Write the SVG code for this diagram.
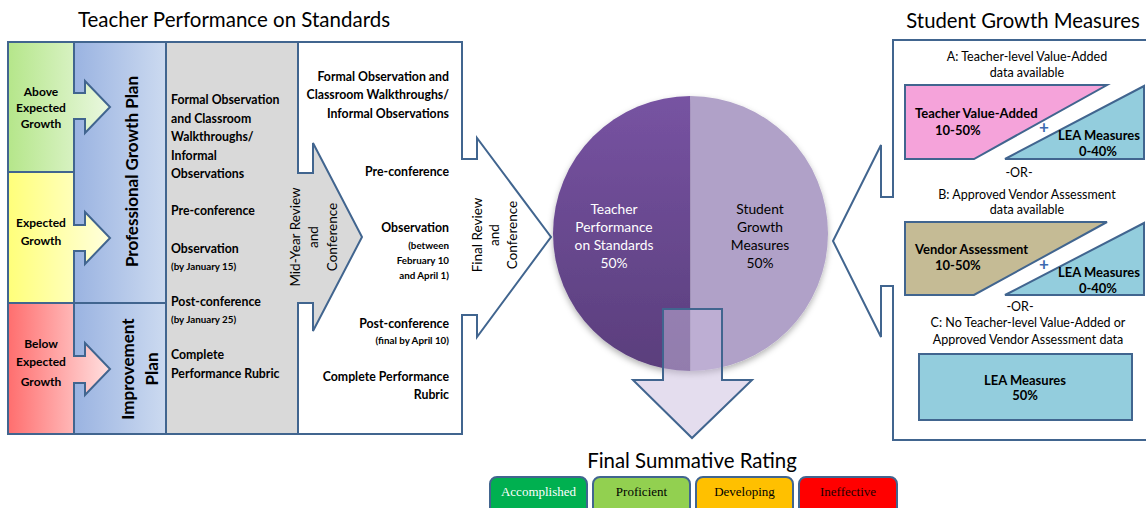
<svg xmlns="http://www.w3.org/2000/svg" width="1146" height="508" viewBox="0 0 1146 508">
<defs>
<style>
.t{font-family:Lato,"Liberation Sans",sans-serif;fill:#000}
.b{font-weight:bold}
.ln{stroke:#41658F;stroke-width:2;stroke-linejoin:miter}
.rt{font-family:"Liberation Serif",serif;font-size:13px;text-anchor:middle}
</style>
<linearGradient id="gGreen" gradientUnits="userSpaceOnUse" x1="8" y1="0" x2="110" y2="0"><stop offset="0" stop-color="#B5E68A"/><stop offset="1" stop-color="#EAF8E0"/></linearGradient>
<linearGradient id="gYellow" gradientUnits="userSpaceOnUse" x1="8" y1="0" x2="110" y2="0"><stop offset="0" stop-color="#FFFF7A"/><stop offset="1" stop-color="#FFFFDD"/></linearGradient>
<linearGradient id="gRed" gradientUnits="userSpaceOnUse" x1="8" y1="0" x2="110" y2="0"><stop offset="0" stop-color="#FF6E6E"/><stop offset="1" stop-color="#FFE0E0"/></linearGradient>
<linearGradient id="gBlue" x1="0" y1="0" x2="1" y2="0"><stop offset="0" stop-color="#9AB3E1"/><stop offset="1" stop-color="#CCDAF0"/></linearGradient>
<linearGradient id="gPurple" x1="0" y1="0" x2="0" y2="1"><stop offset="0" stop-color="#7753A2"/><stop offset="1" stop-color="#5A3E7C"/></linearGradient>
<filter id="sh" x="-10%" y="-10%" width="120%" height="125%"><feDropShadow dx="0" dy="3" stdDeviation="3" flood-color="#000" flood-opacity="0.3"/></filter>
</defs>
<rect width="1146" height="508" fill="#fff"/>

<!-- Titles -->
<text class="t" x="234" y="27" font-size="20.5" text-anchor="middle">Teacher Performance on Standards</text>
<text class="t" x="1023" y="28" font-size="20.3" text-anchor="middle">Student Growth Measures</text>
<text class="t" x="692" y="468" font-size="20.4" text-anchor="middle">Final Summative Rating</text>

<!-- White box with final review arrow -->
<g id="final-review">
<polygon class="ln" fill="#fff" points="298,42 462,42 462,159 477,159 477,138 551,237 477,337 477,315 462,315 462,434 298,434"/>
<g class="t b" font-size="12.3" text-anchor="end">
<text x="449" y="81">Formal Observation and</text>
<text x="449" y="99">Classroom Walkthroughs/</text>
<text x="449" y="118">Informal Observations</text>
<text x="449" y="176">Pre-conference</text>
<text x="449" y="232">Observation</text>
<text x="449" y="249" font-size="9.8">(between</text>
<text x="449" y="264" font-size="9.8">February 10</text>
<text x="449" y="279" font-size="9.8">and April 1)</text>
<text x="449" y="328">Post-conference</text>
<text x="449" y="344" font-size="9.8">(final by April 10)</text>
<text x="449" y="381">Complete Performance</text>
<text x="449" y="399">Rubric</text>
</g>
<g class="t" font-size="13.5" text-anchor="middle">
<text transform="translate(481.5,235) rotate(-90)">Final Review</text>
<text transform="translate(498.5,235) rotate(-90)">and</text>
<text transform="translate(516.5,235) rotate(-90)">Conference</text>
</g>
</g>

<!-- Gray column with mid-year arrow -->
<g id="mid-year">
<polygon class="ln" fill="#D9D9D9" points="166,42 298,42 298,173 313,173 313,143 362,237 313,331 313,303 298,303 298,434 166,434"/>
<g class="t b" font-size="12.3">
<text x="171" y="104">Formal Observation</text>
<text x="171" y="123">and Classroom</text>
<text x="171" y="141">Walkthroughs/</text>
<text x="171" y="160">Informal</text>
<text x="171" y="178">Observations</text>
<text x="171" y="215">Pre-conference</text>
<text x="171" y="253">Observation</text>
<text x="171" y="270" font-size="9.8">(by January 15)</text>
<text x="171" y="306">Post-conference</text>
<text x="171" y="323" font-size="9.8">(by January 25)</text>
<text x="171" y="359">Complete</text>
<text x="171" y="378">Performance Rubric</text>
</g>
<g class="t" font-size="13.5" text-anchor="middle">
<text transform="translate(299.5,237) rotate(-90)">Mid-Year Review</text>
<text transform="translate(318,237) rotate(-90)">and</text>
<text transform="translate(336.5,237) rotate(-90)">Conference</text>
</g>
</g>

<!-- Blue plans -->
<g id="pgp">
<rect class="ln" x="74" y="42" width="92" height="261" fill="url(#gBlue)"/>
<text class="t b" font-size="17" text-anchor="middle" transform="translate(137.5,171.5) rotate(-90)">Professional Growth Plan</text>
</g>
<g id="ip">
<rect class="ln" x="74" y="303" width="92" height="131" fill="url(#gBlue)"/>
<g class="t b" font-size="17" text-anchor="middle">
<text transform="translate(134,369) rotate(-90)">Improvement</text>
<text transform="translate(158,369) rotate(-90)">Plan</text>
</g>
</g>

<!-- Growth boxes with arrows -->
<g id="above">
<polygon class="ln" fill="url(#gGreen)" points="8,42 74,42 74,93 85,93 85,81 110,107 85,133 85,119 74,119 74,172 8,172"/>
<g class="t b" font-size="12" text-anchor="middle">
<text x="41" y="96">Above</text><text x="41" y="112">Expected</text><text x="41" y="128">Growth</text>
</g>
</g>
<g id="expected">
<polygon class="ln" fill="url(#gYellow)" points="8,172 74,172 74,225 85,225 85,212 110,238 85,264 85,251 74,251 74,303 8,303"/>
<g class="t b" font-size="12" text-anchor="middle">
<text x="41" y="227">Expected</text><text x="41" y="245">Growth</text>
</g>
</g>
<g id="below">
<polygon class="ln" fill="url(#gRed)" points="8,303 74,303 74,356 85,356 85,343 110,369 85,395 85,383 74,383 74,434 8,434"/>
<g class="t b" font-size="12" text-anchor="middle">
<text x="41" y="348">Below</text><text x="41" y="366">Expected</text><text x="41" y="386">Growth</text>
</g>
</g>

<!-- Right panel -->
<g id="student-growth">
<polygon class="ln" fill="#fff" points="1150,40 893,40 893,197 881,197 881,145 833,241 881,337 881,286 893,286 893,440 1150,440"/>
<g class="t" font-size="12.5" text-anchor="middle">
<text x="1027" y="61">A: Teacher-level Value-Added</text>
<text x="1027" y="77">data available</text>
<text x="1019" y="177">-OR-</text>
<text x="1027" y="199">B: Approved Vendor Assessment</text>
<text x="1027" y="214">data available</text>
<text x="1020" y="311">-OR-</text>
<text x="1028" y="327">C:  No Teacher-level Value-Added or</text>
<text x="1028" y="344">Approved Vendor Assessment data</text>
</g>
</g>
<g id="teacher-va">
<polygon class="ln" fill="#F5A3DA" points="905,85 1107,85 974,159 905,159"/>
<text class="t b" font-size="13" x="915" y="118">Teacher Value-Added</text>
<text class="t b" font-size="13" x="935" y="135">10-50%</text>
</g>
<g id="lea-a">
<polygon class="ln" fill="#93CDDD" points="1005,159 1144,86 1144,159"/>
<text class="t b" font-size="13" x="1140" y="140" text-anchor="end">LEA Measures</text>
<text class="t b" font-size="13" x="1117" y="156" text-anchor="end">0-40%</text>
</g>
<text class="t b" x="1044" y="133" font-size="17" text-anchor="middle" style="fill:#3D6AB0">+</text>
<g id="vendor">
<polygon class="ln" fill="#C5BB95" points="905,222 1107,222 974,295 905,295"/>
<text class="t b" font-size="13" x="915" y="254">Vendor Assessment</text>
<text class="t b" font-size="13" x="935" y="270">10-50%</text>
</g>
<g id="lea-b">
<polygon class="ln" fill="#93CDDD" points="1005,295 1144,223 1144,295"/>
<text class="t b" font-size="13" x="1140" y="277" text-anchor="end">LEA Measures</text>
<text class="t b" font-size="13" x="1117" y="293" text-anchor="end">0-40%</text>
</g>
<text class="t b" x="1044" y="270" font-size="17" text-anchor="middle" style="fill:#3D6AB0">+</text>
<g id="lea-c">
<rect class="ln" x="919" y="354" width="213" height="66" fill="#93CDDD"/>
<text class="t b" font-size="13" x="1025" y="385" text-anchor="middle">LEA Measures</text>
<text class="t b" font-size="13" x="1025" y="400" text-anchor="middle">50%</text>
</g>

<!-- Pie -->
<g id="pie">
<g filter="url(#sh)">
<path d="M690.5,96 A137.5,137.5 0 0 0 690.5,371 Z" fill="url(#gPurple)"/>
<path d="M690.5,96 A137.5,137.5 0 0 1 690.5,371 Z" fill="#B0A1C8"/>
</g>
<g class="t" font-size="13.8" text-anchor="middle">
<text x="614" y="214" style="fill:#fff">Teacher</text>
<text x="614" y="232" style="fill:#fff">Performance</text>
<text x="614" y="250" style="fill:#fff">on Standards</text>
<text x="614" y="268" style="fill:#fff">50%</text>
<text x="760" y="214">Student</text>
<text x="760" y="232">Growth</text>
<text x="760" y="250">Measures</text>
<text x="760" y="268">50%</text>
</g>
</g>

<!-- Connectors -->
<g id="connectors">
<polygon class="ln" fill="#C9BCDD" fill-opacity="0.5" points="663,309 722,309 722,380 752,380 692,438 633,380 663,380"/>
</g>

<!-- Ratings -->
<g id="accomplished"><rect class="ln" x="490" y="477" width="97" height="40" rx="7" fill="#00B050"/><text class="rt" x="538.5" y="496" fill="#fff">Accomplished</text></g>
<g id="proficient"><rect class="ln" x="593" y="477" width="97" height="40" rx="7" fill="#92D050"/><text class="rt" x="641.5" y="496">Proficient</text></g>
<g id="developing"><rect class="ln" x="696" y="477" width="97" height="40" rx="7" fill="#FFC000"/><text class="rt" x="744.5" y="496">Developing</text></g>
<g id="ineffective"><rect class="ln" x="799" y="477" width="98" height="40" rx="7" fill="#FF0000"/><text class="rt" x="848" y="496" fill="#200">Ineffective</text></g>
</svg>
